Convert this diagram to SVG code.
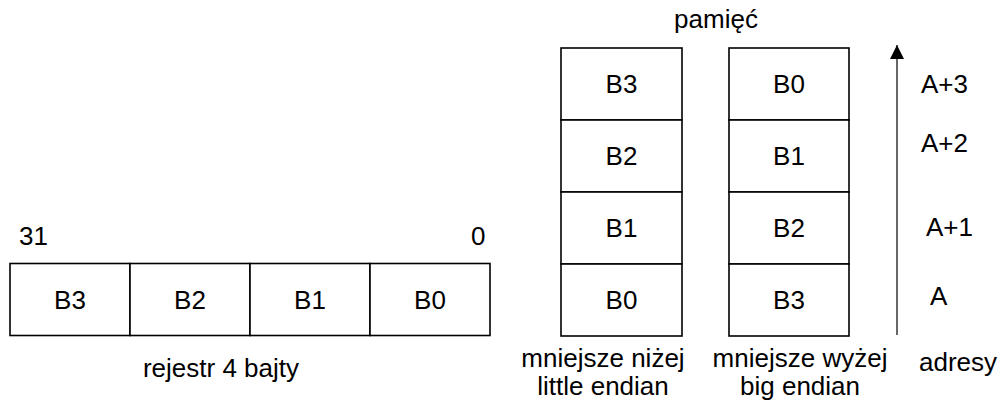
<svg xmlns="http://www.w3.org/2000/svg" width="1003" height="419" viewBox="0 0 1003 419">
  <style>
    .cell { fill: #ffffff; stroke: #000000; stroke-width: 1.6; }
    text { font-family: "Liberation Sans", Arial, sans-serif; font-size: 26px; fill: #000000; }
    .c { text-anchor: middle; }
    .axis { stroke: #000000; stroke-width: 1.2; fill: none; }
  </style>
  <defs>
    <marker id="arrowHead" markerWidth="16" markerHeight="16" refX="14" refY="7" orient="auto" markerUnits="userSpaceOnUse" viewBox="0 0 16 16">
      <path d="M0 0 L14 7 L0 14 Z" fill="#000000"/>
    </marker>
  </defs>
  <rect width="1003" height="419" fill="#ffffff"/>

  <!-- 32-bit register split into four bytes -->
  <g id="register">
    <rect class="cell" x="10" y="263.5" width="120" height="72"/>
    <rect class="cell" x="130" y="263.5" width="120" height="72"/>
    <rect class="cell" x="250" y="263.5" width="120" height="72"/>
    <rect class="cell" x="370" y="263.5" width="120" height="72"/>
    <text class="c" x="70" y="308.5">B3</text>
    <text class="c" x="190" y="308.5">B2</text>
    <text class="c" x="310" y="308.5">B1</text>
    <text class="c" x="430" y="308.5">B0</text>
    <text x="19" y="245">31</text>
    <text x="471" y="245">0</text>
    <text class="c" x="221" y="377">rejestr 4 bajty</text>
  </g>

  <text id="memory-title" class="c" x="716" y="28">pamięć</text>

  <!-- little endian layout -->
  <g id="little-endian">
    <rect class="cell" x="561" y="48" width="121" height="72"/>
    <rect class="cell" x="561" y="120" width="121" height="72"/>
    <rect class="cell" x="561" y="192" width="121" height="72"/>
    <rect class="cell" x="561" y="264" width="121" height="72"/>
    <text class="c" x="621.5" y="92.5">B3</text>
    <text class="c" x="621.5" y="164.5">B2</text>
    <text class="c" x="621.5" y="236.5">B1</text>
    <text class="c" x="621.5" y="308.5">B0</text>
    <text class="c" x="603" y="367">mniejsze niżej</text>
    <text class="c" x="603" y="395">little endian</text>
  </g>

  <!-- big endian layout -->
  <g id="big-endian">
    <rect class="cell" x="729" y="48" width="120" height="72"/>
    <rect class="cell" x="729" y="120" width="120" height="72"/>
    <rect class="cell" x="729" y="192" width="120" height="72"/>
    <rect class="cell" x="729" y="264" width="120" height="72"/>
    <text class="c" x="789" y="92.5">B0</text>
    <text class="c" x="789" y="164.5">B1</text>
    <text class="c" x="789" y="236.5">B2</text>
    <text class="c" x="789" y="308.5">B3</text>
    <text class="c" x="800" y="367">mniejsze wyżej</text>
    <text class="c" x="800" y="395">big endian</text>
  </g>

  <!-- address axis -->
  <g id="connectors">
    <line class="axis" x1="897" y1="335" x2="897" y2="45" marker-end="url(#arrowHead)"/>
  </g>
  <g id="addresses">
    <text x="921" y="93">A+3</text>
    <text x="921" y="152">A+2</text>
    <text x="926" y="236">A+1</text>
    <text x="930" y="305">A</text>
    <text class="c" x="958" y="371">adresy</text>
  </g>
</svg>
